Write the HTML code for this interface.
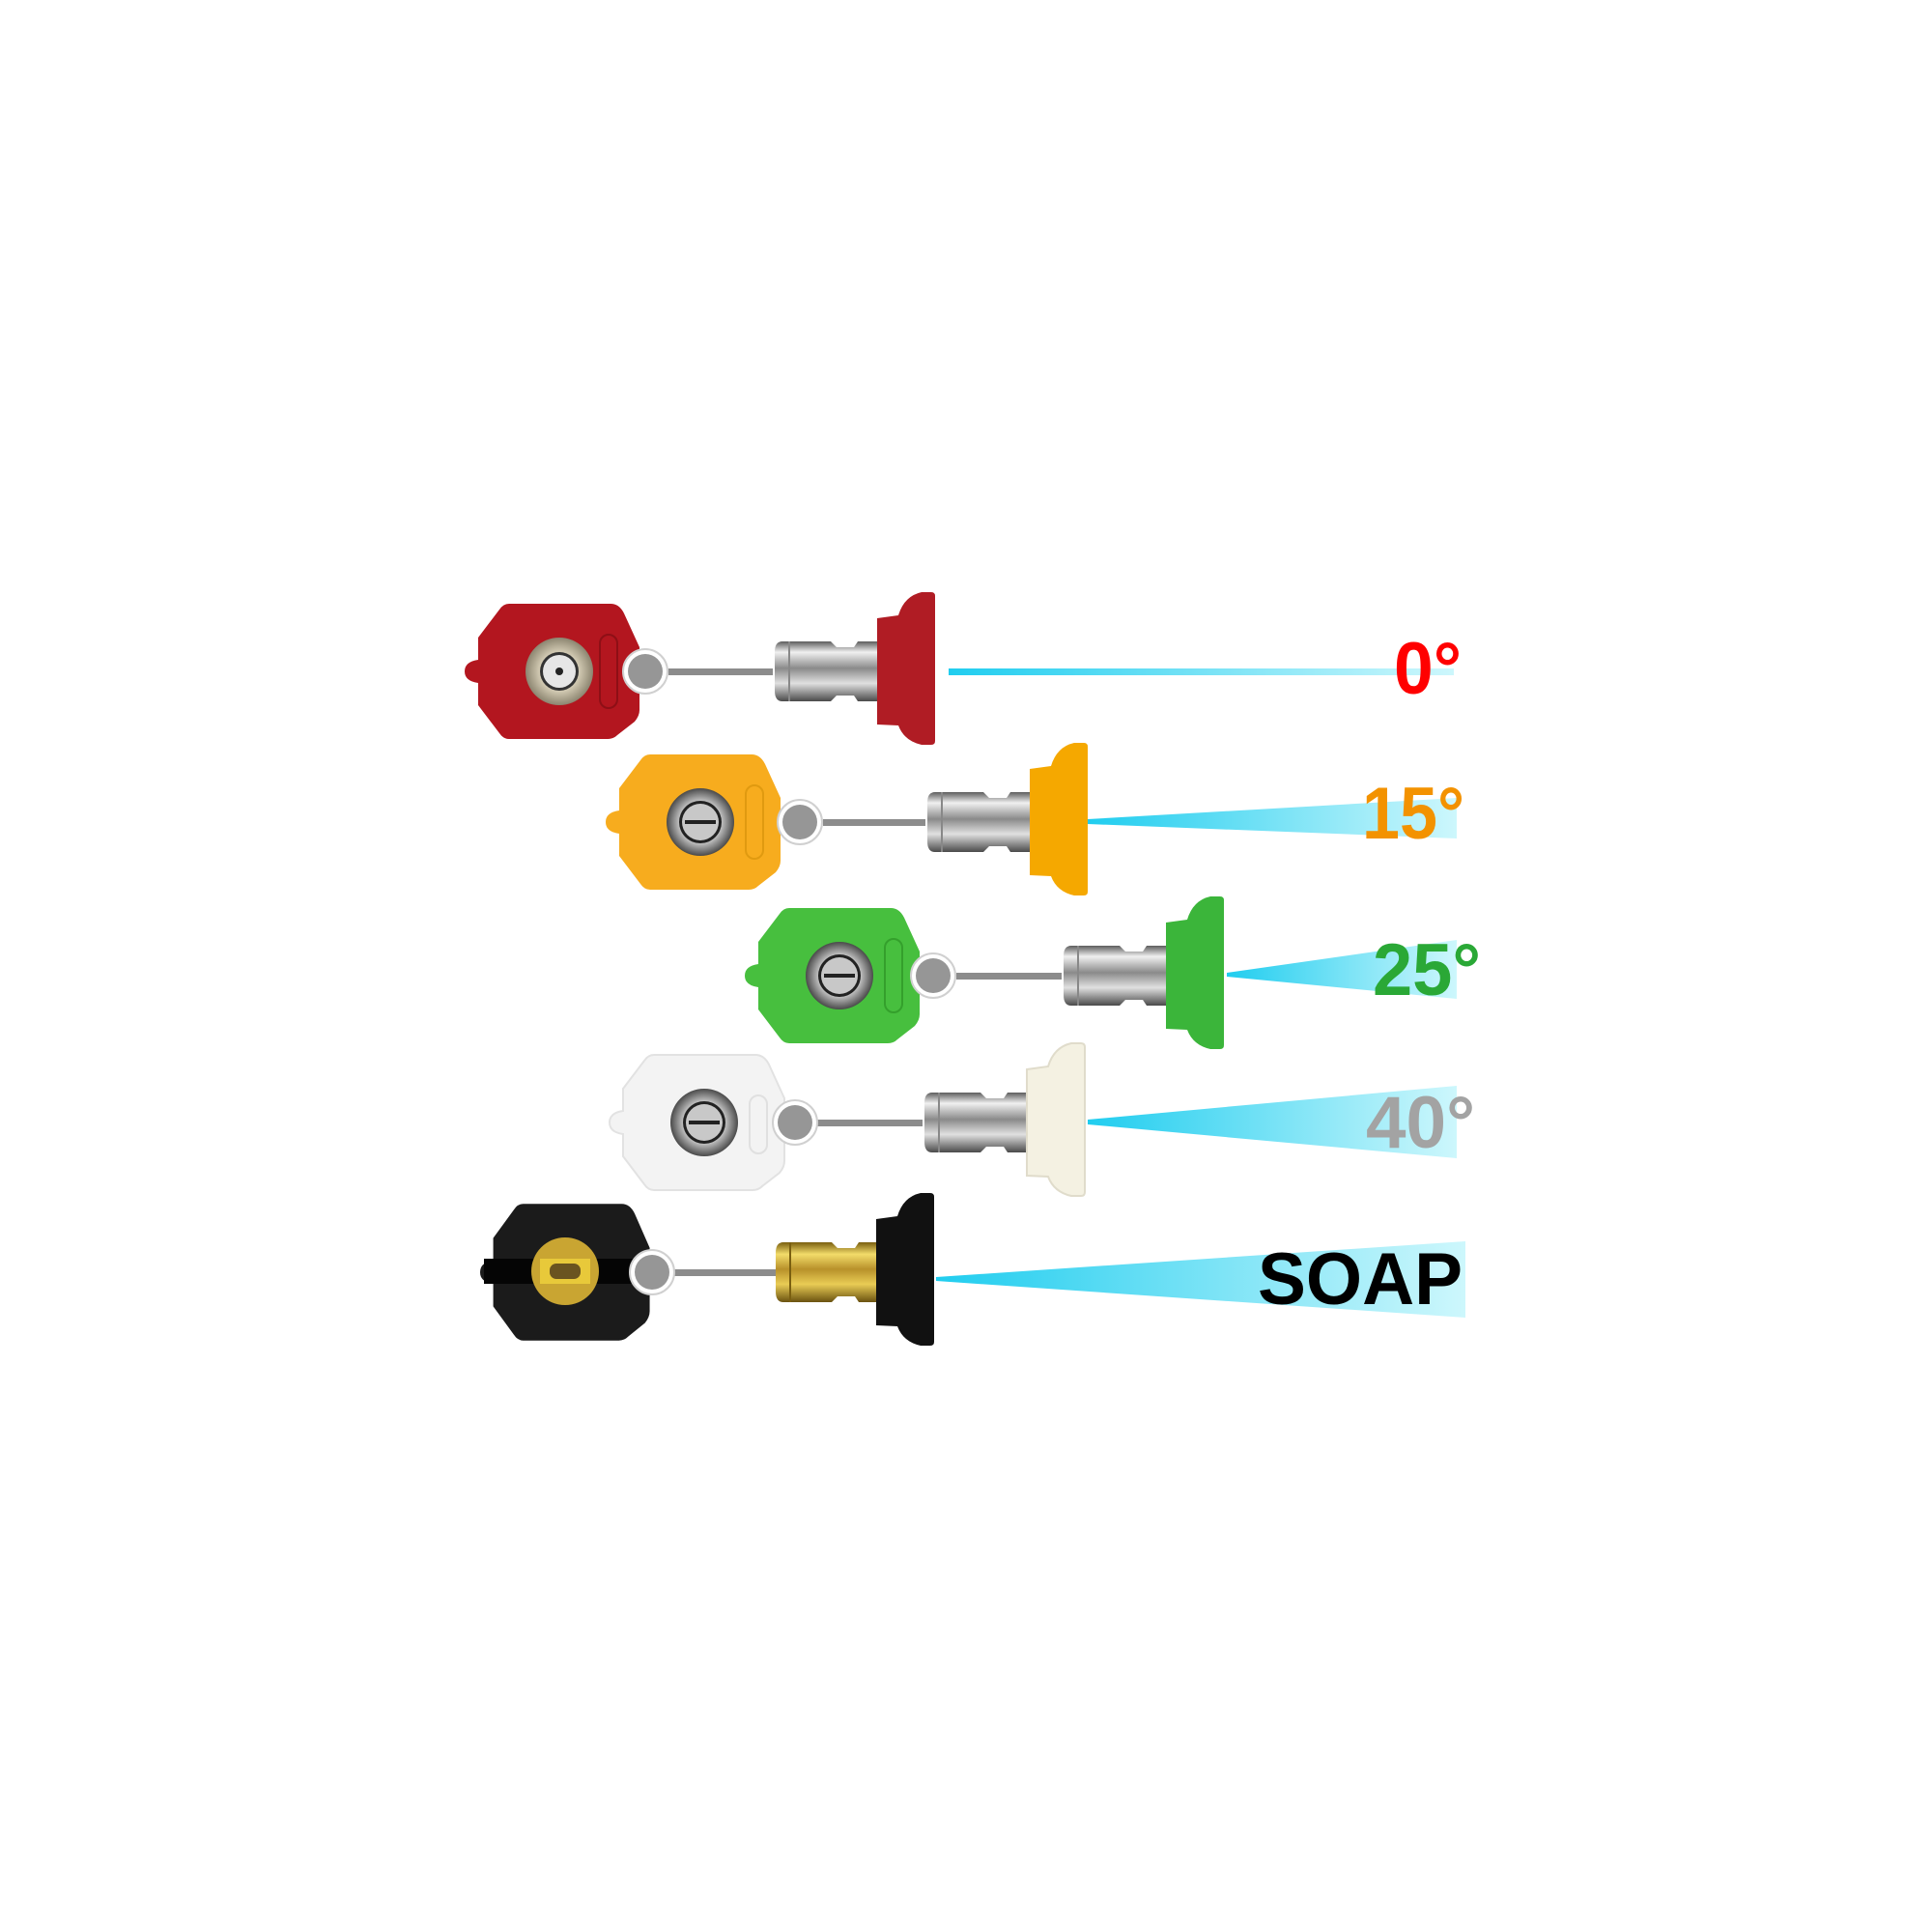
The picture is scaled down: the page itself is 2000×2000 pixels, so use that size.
<!DOCTYPE html>
<html><head><meta charset="utf-8"><style>html,body{margin:0;padding:0;background:#fff}svg{display:block}</style></head>
<body>
<svg width="2000" height="2000" viewBox="0 0 2000 2000" xmlns="http://www.w3.org/2000/svg">
<defs>
<linearGradient id="steel" x1="0" y1="0" x2="0" y2="1">
<stop offset="0" stop-color="#5d5d5d"/><stop offset="0.18" stop-color="#f0f0f0"/><stop offset="0.45" stop-color="#8a8a8a"/><stop offset="0.7" stop-color="#e0e0e0"/><stop offset="1" stop-color="#4a4a4a"/></linearGradient>
<linearGradient id="brass" x1="0" y1="0" x2="0" y2="1">
<stop offset="0" stop-color="#7a5f10"/><stop offset="0.2" stop-color="#f3dc6a"/><stop offset="0.45" stop-color="#b8912a"/><stop offset="0.7" stop-color="#e9cc55"/><stop offset="1" stop-color="#6a5210"/></linearGradient>
<linearGradient id="beam" x1="0" y1="0" x2="1" y2="0">
<stop offset="0" stop-color="#20cdef"/><stop offset="1" stop-color="#cdf7fc"/></linearGradient>
<radialGradient id="ring" cx="0.5" cy="0.5" r="0.5"><stop offset="0.6" stop-color="#cfc7b0"/><stop offset="1" stop-color="#8c8570"/></radialGradient>
<radialGradient id="sring" cx="0.5" cy="0.5" r="0.5"><stop offset="0.6" stop-color="#c8c8c8"/><stop offset="1" stop-color="#4a4a4a"/></radialGradient>
<path id="hex" d="M46,-70 L151,-70 Q160,-70 165,-60 L181,-25 L181,40 Q181,46 176,52 L158,66 Q154,70 148,70 L46,70 Q40,70 36,64 L14,35 L14,12 Q0,10 0,0 Q0,-10 14,-12 L14,-35 L36,-64 Q40,-70 46,-70Z"/>
<g id="dot"><circle r="23" fill="#fff" stroke="#d0d0d0" stroke-width="2"/><circle r="18" fill="#969696"/></g>
<g id="stemS"><path d="M8,-31 L58,-31 L64,-25 L82,-25 L86,-31 L110,-31 L110,31 L86,31 L82,25 L64,25 L58,31 L8,31 Q0,31 0,20 L0,-20 Q0,-31 8,-31Z" fill="url(#steel)"/><rect x="14" y="-31" width="2" height="62" fill="#888"/></g>
<g id="stemB"><path d="M8,-31 L58,-31 L64,-25 L82,-25 L86,-31 L108,-31 L108,31 L86,31 L82,25 L64,25 L58,31 L8,31 Q0,31 0,20 L0,-20 Q0,-31 8,-31Z" fill="url(#brass)"/><rect x="14" y="-31" width="2" height="62" fill="#7a5f10"/></g>
<path id="flange" d="M106,-55 L128,-58 Q134,-78 152,-82 L162,-82 Q166,-82 166,-78 L166,72 Q166,76 162,76 L152,76 Q134,72 128,56 L106,55Z"/>
</defs>

<rect x="982" y="692" width="523" height="7" fill="url(#beam)"/>
<polygon points="1126,848 1508,826 1508,868 1126,853" fill="url(#beam)"/>
<polygon points="1270,1007 1508,973 1508,1034 1270,1011" fill="url(#beam)"/>
<polygon points="1126,1159 1508,1124 1508,1199 1126,1164" fill="url(#beam)"/>
<polygon points="969,1322 1517,1285 1517,1364 969,1326" fill="url(#beam)"/>

<g fill="#8c8c8c">
<rect x="692" y="692" width="108" height="7"/>
<rect x="852" y="848" width="106" height="7"/>
<rect x="990" y="1007" width="109" height="7"/>
<rect x="846" y="1159" width="109" height="7"/>
<rect x="698" y="1314" width="105" height="7"/>
</g>

<g transform="translate(481,695)">
<use href="#hex" fill="#b3161f"/>
<circle cx="98" cy="0" r="35" fill="url(#ring)"/><circle cx="98" cy="0" r="20" fill="#333"/><circle cx="98" cy="0" r="17" fill="#e6e6e6"/><circle cx="98" cy="0" r="4" fill="#222"/>
<rect x="140" y="-38" width="18" height="76" rx="9" fill="none" stroke="#8e0f16" stroke-width="2"/>
<use href="#dot" x="187"/>
</g>
<g transform="translate(802,695)"><use href="#stemS"/><use href="#flange" fill="#b01c24"/></g>

<g transform="translate(627,851)">
<use href="#hex" fill="#f7ac1e"/>
<circle cx="98" cy="0" r="35" fill="url(#sring)"/><circle cx="98" cy="0" r="22" fill="#222"/><circle cx="98" cy="0" r="19" fill="#c8c8c8"/><rect x="82" y="-2" width="32" height="4" fill="#222"/>
<rect x="145" y="-38" width="18" height="76" rx="9" fill="none" stroke="#e09a10" stroke-width="2"/>
<use href="#dot" x="201"/>
</g>
<g transform="translate(960,851)"><use href="#stemS"/><use href="#flange" fill="#f5a800"/></g>

<g transform="translate(771,1010)">
<use href="#hex" fill="#47bf3e"/>
<circle cx="98" cy="0" r="35" fill="url(#sring)"/><circle cx="98" cy="0" r="22" fill="#222"/><circle cx="98" cy="0" r="19" fill="#c8c8c8"/><rect x="82" y="-2" width="32" height="4" fill="#222"/>
<rect x="145" y="-38" width="18" height="76" rx="9" fill="none" stroke="#34a02c" stroke-width="2"/>
<use href="#dot" x="195"/>
</g>
<g transform="translate(1101,1010)"><use href="#stemS"/><use href="#flange" fill="#3bb53a"/></g>

<g transform="translate(631,1162)">
<use href="#hex" fill="#f3f3f3" stroke="#e2e2e2" stroke-width="2"/>
<circle cx="98" cy="0" r="35" fill="url(#sring)"/><circle cx="98" cy="0" r="22" fill="#222"/><circle cx="98" cy="0" r="19" fill="#c8c8c8"/><rect x="82" y="-2" width="32" height="4" fill="#222"/>
<rect x="145" y="-28" width="18" height="60" rx="9" fill="none" stroke="#e0e0e0" stroke-width="2"/>
<use href="#dot" x="192"/>
</g>
<g transform="translate(957,1162)"><use href="#stemS"/><use href="#flange" fill="#f4f1e2" stroke="#e0dccb" stroke-width="2"/></g>

<g transform="translate(497,1317)">
<use href="#hex" fill="#1b1b1b" transform="scale(0.97,1.01)"/>
<rect x="4" y="-14" width="168" height="26" fill="#050505"/>
<circle cx="88" cy="-1" r="35" fill="#c9a532"/>
<rect x="62" y="-14" width="52" height="26" fill="#e8c93a"/>
<rect x="72" y="-9" width="32" height="16" rx="7" fill="#6a5420"/>
<use href="#dot" x="178"/>
</g>
<g transform="translate(803,1317)"><use href="#stemB"/><use href="#flange" fill="#111" transform="translate(-2,0)"/></g>

<g font-family="'Liberation Sans', sans-serif" font-weight="bold" font-size="76">
<text x="1443" y="718" fill="#ff0000" textLength="70" lengthAdjust="spacingAndGlyphs">0°</text>
<text x="1410" y="868" fill="#f39200" textLength="106" lengthAdjust="spacingAndGlyphs">15°</text>
<text x="1421" y="1030" fill="#2aa836" textLength="112" lengthAdjust="spacingAndGlyphs">25°</text>
<text x="1414" y="1188" fill="#a3a3a3" textLength="113" lengthAdjust="spacingAndGlyphs">40°</text>
<text x="1302" y="1350" fill="#000" textLength="212" lengthAdjust="spacingAndGlyphs">SOAP</text>
</g>
</svg>
</body></html>
